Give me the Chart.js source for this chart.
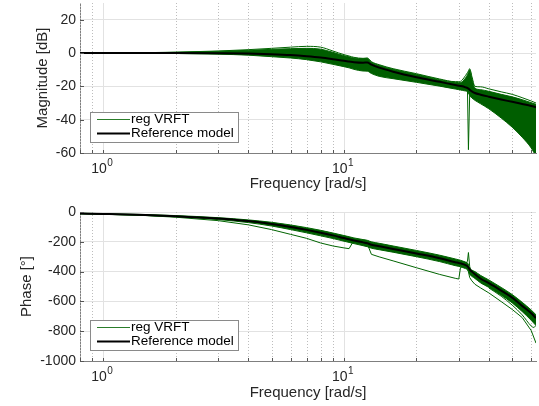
<!DOCTYPE html>
<html><head><meta charset="utf-8">
<script src="https://cdn.jsdelivr.net/npm/chart.js@4.4.1/dist/chart.umd.min.js"></script>
<style>
html,body{margin:0;padding:0;background:#fff;}
body{width:539px;height:406px;position:relative;overflow:hidden;}
#c1{position:absolute;left:0;top:0;}
#c2{position:absolute;left:0;top:200px;}
</style></head><body>
<canvas id="c1" width="539" height="200"></canvas>
<canvas id="c2" width="539" height="206"></canvas>
<script>
// ---------- data ----------
const freq = [0.8, 1, 1.5, 2, 3, 4, 5, 6, 7, 8, 9, 10, 10.5, 11, 12, 12.5, 13, 14, 16, 20, 25, 29, 30, 30.5, 31, 32, 32.6, 32.9, 33.3, 34, 35, 37, 40, 45, 50, 55, 60, 62.8];

const magRef = [0, 0, 0, 0, -0.1, -0.3, -0.7, -1.2, -1.9, -2.7, -3.7, -4.7, -5.1, -5.5, -5.8, -5.7, -7.0, -8.8, -11.2, -14.5, -17.3, -19.2, -19.6, -19.8, -20.0, -20.6, -21.0, -21.4, -22.0, -23.0, -24.0, -25.0, -26.2, -27.9, -29.3, -30.6, -31.8, -32.5];
const magTop = [0.1, 0.1, 0.2, 0.5, 1.2, 2.0, 2.8, 3.5, 4.0, 3.5, 1.2, -1.0, -1.8, -2.6, -3.2, -3.0, -5.2, -7.0, -9.4, -12.4, -15.6, -17.2, -17.2, -17.0, -16.2, -13.5, -11.8, -10.8, -9.4, -14.0, -20.0, -20.3, -21.5, -23.3, -24.8, -26.8, -28.8, -30.0];
const magBandHi = [0.05, 0.05, 0.1, 0.4, 1.0, 1.6, 2.2, 2.6, 2.8, 2.3, 0.4, -1.6, -2.3, -3.0, -3.4, -3.2, -5.4, -7.4, -9.8, -12.8, -16.0, -17.6, -17.8, -17.7, -17.2, -15.0, -13.0, -11.5, -10.0, -15.0, -21.0, -22.0, -23.0, -24.8, -26.3, -28.0, -29.8, -30.8];
const magBandLo = [-0.05, -0.05, -0.1, -0.3, -0.7, -1.3, -2.2, -3.0, -4.0, -5.3, -6.8, -8.2, -8.9, -9.8, -10.8, -10.9, -12.3, -14.0, -15.4, -17.6, -19.9, -21.6, -22.0, -22.2, -22.4, -22.8, -23.2, -24.0, -25.5, -27.0, -28.4, -30.5, -33.5, -39.0, -44.5, -50.5, -57.0, -62.0];
const magSpikeFreq = [30, 31, 32, 32.6, 32.9, 33.3, 34, 35, 37];
const magSpikeVals = [-19.8, -20.3, -21.2, -22.5, -58, -24.5, -25, -25.5, -26.5];

const phaseRef = [-10, -13, -20, -28, -44, -61, -80, -100, -120, -139, -157, -175, -183, -191, -204, -210, -220, -230, -248, -278, -310, -337, -342, -345, -348, -357, -364, -372, -385, -400, -418, -448, -478, -528, -575, -630, -680, -712];
const phaseBandHi = [-8, -11, -17, -24, -38, -53, -69, -87, -105, -123, -141, -158, -166, -174, -185, -190, -200, -210, -228, -258, -290, -315, -321, -324, -328, -336, -342, -350, -378, -390, -400, -426, -456, -506, -554, -606, -658, -690];
const phaseBandLo = [-12, -15, -23, -32, -51, -71, -94, -118, -140, -160, -178, -196, -204, -212, -226, -233, -243, -253, -270, -300, -333, -360, -365, -368, -372, -380, -388, -398, -418, -432, -446, -476, -506, -558, -610, -668, -727, -762];
const phaseOutlier = [-12, -15, -24, -35, -58, -86, -118, -150, -177, -208, -228, -241, -246, -190, -206, -214, -284, -301, -328, -374, -419, -445, -450, -372, -366, -372, -385, -400, -440, -462, -485, -510, -543, -601, -654, -708, -796, -880];
const phaseSpikeFreq = [31, 32, 32.6, 32.9, 33.3, 34, 35];
const phaseSpikeVals = [-340, -348, -330, -272, -365, -415, -428];
const phaseTailFreq = [40, 45, 50, 55, 60, 61.5, 62.8];
const phaseTailVals = [-510, -565, -625, -690, -765, -775, -760];

const magTicks = [-60, -40, -20, 0, 20];
const phaseTicks = [-1000, -800, -600, -400, -200, 0];
const xMajorTicks = [1, 10];
const xTickExponents = ['0', '1'];
const xMinorTicks = [0.8, 0.9, 2, 3, 4, 5, 6, 7, 8, 9, 20, 30, 40, 50, 60];
const seriesNames = ['reg VRFT', 'Reference model'];

// ---------- styling ----------
const FONT = '"Liberation Sans", Arial, Helvetica, sans-serif';
const GREEN = '#006400';
const FILLGREEN = '#005e00';
const TXT = '#262626';
const AXIS = '#7f7f7f';

function pts(xs, ys) { return xs.map((f, i) => ({x: f, y: ys[i]})); }

function decor() {
  return {
    id: 'decor',
    beforeDatasetsDraw(chart) {
      const {ctx, chartArea: a, scales: {x}} = chart;
      ctx.save();
      ctx.lineWidth = 1;
      ctx.strokeStyle = '#bdbdbd';
      ctx.setLineDash([1, 2]);
      xMinorTicks.forEach(v => {
        const px = Math.round(x.getPixelForValue(v)) + 0.5;
        ctx.beginPath(); ctx.moveTo(px, a.top); ctx.lineTo(px, a.bottom); ctx.stroke();
      });
      ctx.setLineDash([]);
      ctx.strokeStyle = '#e2e2e2';
      xMajorTicks.forEach(v => {
        const px = Math.round(x.getPixelForValue(v)) + 0.5;
        ctx.beginPath(); ctx.moveTo(px, a.top); ctx.lineTo(px, a.bottom); ctx.stroke();
      });
      ctx.restore();
    },
    afterDatasetsDraw(chart) {
      const {ctx, chartArea: a, scales: {x, y}} = chart;
      ctx.save();
      ctx.strokeStyle = '#555';
      ctx.lineWidth = 1;
      xMajorTicks.concat(xMinorTicks).forEach(v => {
        const px = Math.round(x.getPixelForValue(v)) + 0.5;
        ctx.beginPath(); ctx.moveTo(px, a.bottom); ctx.lineTo(px, a.bottom - 3); ctx.stroke();
      });
      y.ticks.forEach(t => {
        const py = Math.round(y.getPixelForValue(t.value)) + 0.5;
        ctx.beginPath(); ctx.moveTo(a.left, py); ctx.lineTo(a.left + 4, py); ctx.stroke();
      });
      ctx.fillStyle = TXT;
      ctx.textAlign = 'left';
      ctx.textBaseline = 'alphabetic';
      xMajorTicks.forEach((v, i) => {
        const px = x.getPixelForValue(v);
        ctx.font = '14px ' + FONT; const w1 = ctx.measureText('10').width;
        ctx.font = '10px ' + FONT; const w2 = ctx.measureText(xTickExponents[i]).width;
        const s = px - (w1 + w2) / 2 - 1.5;
        ctx.font = '14px ' + FONT; ctx.fillText('10', s, a.bottom + 20);
        ctx.font = '10px ' + FONT; ctx.fillText(xTickExponents[i], s + w1 + 0.5, a.bottom + 12.5);
      });
      const L = a.left + 10, H = 30, W = 148, T = a.bottom - 11 - H;
      ctx.fillStyle = '#fff';
      ctx.fillRect(L, T, W, H);
      ctx.strokeStyle = '#8a8a8a';
      ctx.strokeRect(L + 0.5, T + 0.5, W, H);
      const cols = ['#2a7d2a', '#000'];
      const widths = [1, 2];
      seriesNames.forEach((lab, i) => {
        const yy = T + 7.5 + i * 14;
        ctx.strokeStyle = cols[i]; ctx.lineWidth = widths[i];
        ctx.beginPath(); ctx.moveTo(L + 7, yy); ctx.lineTo(L + 40, yy); ctx.stroke();
        ctx.fillStyle = '#000';
        ctx.font = '13.5px ' + FONT;
        ctx.textBaseline = 'middle';
        ctx.fillText(lab, L + 41, yy);
      });
      ctx.restore();
    }
  };
}

function makeChart(id, cfg) {
  return new Chart(document.getElementById(id), {
    type: 'line',
    data: {datasets: cfg.datasets},
    options: {
      responsive: false,
      animation: false,
      events: [],
      devicePixelRatio: 1,
      layout: {padding: {top: cfg.padTop, right: 3, left: 0, bottom: 0}},
      elements: {point: {radius: 0}},
      plugins: {legend: {display: false}, tooltip: {enabled: false}},
      scales: {
        x: {
          type: 'logarithmic', min: 0.8, max: 62.8,
          afterFit: s => { s.height = cfg.xHeight; s.paddingLeft = 0; s.paddingRight = 0; },
          ticks: {display: false},
          grid: {display: false},
          border: {display: true, color: AXIS},
          title: {display: true, text: 'Frequency [rad/s]', color: TXT,
                  font: {family: FONT, size: 15}, padding: {top: 0, bottom: cfg.xTitlePad}}
        },
        y: {
          type: 'linear', min: cfg.yMin, max: cfg.yMax,
          afterBuildTicks: s => { s.ticks = cfg.yTicks.map(v => ({value: v})); },
          afterFit: s => { s.width = 80; s.paddingTop = 0; s.paddingBottom = 0; },
          ticks: {color: TXT, font: {family: FONT, size: 14}, padding: 4, callback: v => String(v)},
          grid: {color: '#e2e2e2', drawTicks: false, lineWidth: 1},
          border: {display: true, color: AXIS},
          title: {display: true, text: cfg.yTitle, color: TXT,
                  font: {family: FONT, size: 15}, padding: {top: cfg.yTitlePad, bottom: 0}}
        }
      }
    },
    plugins: [decor()]
  });
}

const lineBase = {pointRadius: 0, fill: false, borderColor: GREEN, borderWidth: 1};

makeChart('c1', {
  padTop: 3, xHeight: 47, xTitlePad: 7, yMin: -60, yMax: 30, yTicks: magTicks,
  yTitle: 'Magnitude [dB]', yTitlePad: 34,
  datasets: [
    {label: seriesNames[1], data: pts(freq, magRef), borderColor: '#000', borderWidth: 2, pointRadius: 0, fill: false, cubicInterpolationMode: 'monotone'},
    Object.assign({label: seriesNames[0], data: pts(magSpikeFreq, magSpikeVals)}, lineBase),
    Object.assign({label: seriesNames[0], data: pts(freq, magTop), cubicInterpolationMode: 'monotone'}, lineBase),
    Object.assign({}, lineBase, {label: seriesNames[0], data: pts(freq, magBandHi), cubicInterpolationMode: 'monotone', fill: '+1', backgroundColor: FILLGREEN}),
    Object.assign({label: seriesNames[0], data: pts(freq, magBandLo), cubicInterpolationMode: 'monotone'}, lineBase)
  ]
});

makeChart('c2', {
  padTop: 12, xHeight: 45, xTitlePad: 4, yMin: -1000, yMax: 0, yTicks: phaseTicks,
  yTitle: 'Phase [°]', yTitlePad: 17.5,
  datasets: [
    {label: seriesNames[1], data: pts(freq, phaseRef), borderColor: '#000', borderWidth: 2, pointRadius: 0, fill: false, cubicInterpolationMode: 'monotone'},
    Object.assign({label: seriesNames[0], data: pts(phaseSpikeFreq, phaseSpikeVals)}, lineBase),
    Object.assign({label: seriesNames[0], data: pts(freq, phaseOutlier)}, lineBase),
    Object.assign({label: seriesNames[0], data: pts(phaseTailFreq, phaseTailVals), cubicInterpolationMode: 'monotone'}, lineBase),
    Object.assign({}, lineBase, {label: seriesNames[0], data: pts(freq, phaseBandHi), cubicInterpolationMode: 'monotone', fill: '+1', backgroundColor: FILLGREEN}),
    Object.assign({label: seriesNames[0], data: pts(freq, phaseBandLo), cubicInterpolationMode: 'monotone'}, lineBase)
  ]
});
</script>
</body></html>
